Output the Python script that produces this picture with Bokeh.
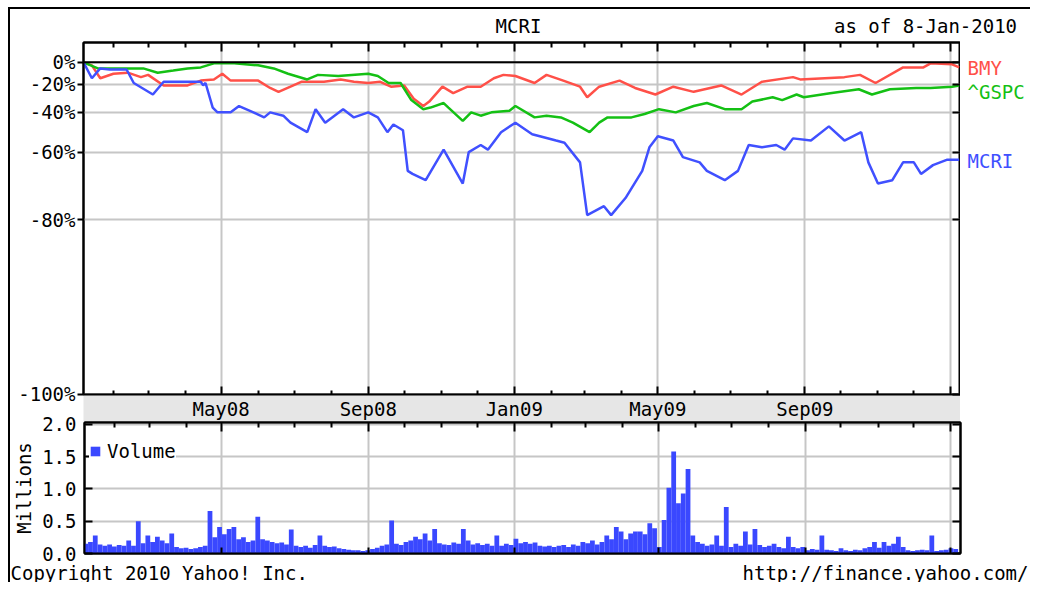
import pandas as pd
from bokeh.plotting import figure
from bokeh.layouts import column, row
from bokeh.models import (Range1d, FixedTicker, DatetimeAxis, LogAxis, LinearAxis,
                          Label, Span, DatetimeTickFormatter)
from bokeh.embed import file_html
from bokeh.resources import INLINE

FONT = "DejaVu Sans Mono"
FS = "19px"

title_text = "MCRI"
as_of_text = "as of  8-Jan-2010"
copyright_text = "Copyright 2010 Yahoo! Inc."
url_text = "http://finance.yahoo.com/"

# ---- data (percent change since 7-Jan-2008) ----
mcri_dates = ["2008-01-07", "2008-01-14", "2008-01-21", "2008-01-29", "2008-02-12", "2008-02-18",
              "2008-03-05", "2008-03-14", "2008-03-22", "2008-04-14", "2008-04-16", "2008-04-18",
              "2008-04-24", "2008-04-28", "2008-05-09", "2008-05-16", "2008-05-28", "2008-06-06",
              "2008-06-11", "2008-06-22", "2008-06-28", "2008-07-12", "2008-07-19", "2008-07-27",
              "2008-08-11", "2008-08-20", "2008-09-01", "2008-09-09", "2008-09-17", "2008-09-22",
              "2008-09-30", "2008-10-04", "2008-10-08", "2008-10-19", "2008-11-03", "2008-11-19",
              "2008-11-24", "2008-12-04", "2008-12-10", "2008-12-21", "2009-01-02", "2009-01-16",
              "2009-02-05", "2009-02-12", "2009-02-25", "2009-03-03", "2009-03-17", "2009-03-23",
              "2009-04-04", "2009-04-18", "2009-04-24", "2009-05-01", "2009-05-14", "2009-05-22",
              "2009-06-05", "2009-06-11", "2009-06-26", "2009-07-07", "2009-07-16", "2009-07-27",
              "2009-08-08", "2009-08-15", "2009-08-22", "2009-09-06", "2009-09-21", "2009-10-04",
              "2009-10-18", "2009-10-24", "2009-11-01", "2009-11-13", "2009-11-22", "2009-12-01",
              "2009-12-07", "2009-12-17", "2009-12-29", "2010-01-08"]
mcri_pct = [0, -15, -6, -7, -7, -19, -28, -18, -18, -18, -21, -19, -37, -40, -40, -36, -40, -43,
            -40, -42, -46, -51, -38, -46, -38, -43, -40, -43, -51, -47, -50, -67, -68, -70, -59,
            -71, -60, -57, -59, -51, -46, -52, -55, -56, -64, -79, -77, -79, -75, -67, -58, -53,
            -55, -62, -64, -67, -70, -67, -57, -58, -57, -59, -54, -55, -48, -55, -51, -64, -71,
            -70, -64, -64, -68, -65, -63, -63]

bmy_dates = ["2008-01-07", "2008-01-14", "2008-01-21", "2008-02-01", "2008-02-13", "2008-02-24",
             "2008-03-01", "2008-03-14", "2008-04-03", "2008-04-14", "2008-04-25", "2008-05-02",
             "2008-05-09", "2008-06-01", "2008-06-11", "2008-06-18", "2008-06-28", "2008-07-07",
             "2008-07-26", "2008-08-09", "2008-08-20", "2008-09-01", "2008-09-11", "2008-09-20",
             "2008-10-01", "2008-10-09", "2008-10-17", "2008-10-22", "2008-11-02", "2008-11-11",
             "2008-11-23", "2008-12-04", "2008-12-15", "2008-12-23", "2009-01-02", "2009-01-18",
             "2009-01-28", "2009-02-11", "2009-02-25", "2009-03-03", "2009-03-13", "2009-03-30",
             "2009-04-12", "2009-04-29", "2009-05-14", "2009-05-31", "2009-06-23", "2009-07-10",
             "2009-07-27", "2009-08-22", "2009-08-28", "2009-10-04", "2009-10-17", "2009-10-30",
             "2009-11-22", "2009-12-09", "2009-12-15", "2010-01-02", "2010-01-08"]
bmy_pct = [0, -3, -15, -11, -10, -14, -12, -21, -21, -17, -16, -11, -17, -17, -23, -26, -22, -18,
           -18, -16, -18, -19, -18, -22, -21, -31, -36, -33, -22, -27, -22, -22, -15, -12, -13,
           -19, -12, -17, -22, -30, -22, -17, -23, -28, -22, -26, -21, -28, -18, -14, -16, -14,
           -12, -19, -5, -5, -1, -2, -5]

gspc_dates = ["2008-01-07", "2008-01-19", "2008-02-13", "2008-02-26", "2008-03-09", "2008-03-22",
              "2008-04-03", "2008-04-14", "2008-04-25", "2008-05-12", "2008-06-01", "2008-06-14",
              "2008-06-26", "2008-07-12", "2008-07-21", "2008-08-07", "2008-09-01", "2008-09-09",
              "2008-09-18", "2008-09-28", "2008-10-07", "2008-10-17", "2008-10-23", "2008-11-03",
              "2008-11-07", "2008-11-19", "2008-11-26", "2008-12-04", "2008-12-13", "2008-12-28",
              "2009-01-02", "2009-01-18", "2009-01-28", "2009-02-09", "2009-02-19", "2009-03-05",
              "2009-03-13", "2009-03-20", "2009-04-09", "2009-04-20", "2009-05-02", "2009-05-16",
              "2009-05-31", "2009-06-11", "2009-06-26", "2009-07-10", "2009-07-19", "2009-08-05",
              "2009-08-13", "2009-08-25", "2009-08-31", "2009-09-22", "2009-10-16", "2009-10-27",
              "2009-11-11", "2009-12-03", "2009-12-15", "2010-01-02", "2010-01-08"]
gspc_pct = [0, -6, -6, -6, -10, -8, -6, -5, -1, -1, -3, -6, -11, -16, -12, -13, -11, -13, -19,
            -19, -32, -38, -37, -34, -37, -45, -40, -42, -40, -39, -36, -43, -42, -43, -46, -51,
            -46, -43, -43, -41, -38, -40, -36, -34, -38, -38, -33, -30, -32, -28, -30, -27, -24,
            -28, -24, -23, -23, -22, -21]

# volume in millions, one bar per 4 days from 8-Jan-2008
vol_start = "2008-01-08"
volume = [0.15, 0.18, 0.28, 0.14, 0.12, 0.14, 0.11, 0.13, 0.12, 0.20,
          0.12, 0.50, 0.16, 0.28, 0.18, 0.26, 0.20, 0.16, 0.31, 0.10,
          0.08, 0.09, 0.07, 0.08, 0.10, 0.12, 0.66, 0.25, 0.41, 0.30,
          0.38, 0.41, 0.22, 0.25, 0.18, 0.20, 0.57, 0.22, 0.20, 0.18,
          0.16, 0.17, 0.14, 0.37, 0.12, 0.10, 0.12, 0.09, 0.13, 0.28,
          0.12, 0.10, 0.11, 0.08, 0.07, 0.06, 0.05, 0.05, 0.04, 0.05,
          0.07, 0.09, 0.12, 0.14, 0.51, 0.15, 0.13, 0.18, 0.20, 0.26,
          0.22, 0.31, 0.20, 0.38, 0.16, 0.14, 0.13, 0.17, 0.15, 0.38,
          0.20, 0.14, 0.16, 0.13, 0.15, 0.12, 0.28, 0.12, 0.15, 0.13,
          0.23, 0.16, 0.18, 0.15, 0.17, 0.12, 0.11, 0.12, 0.10, 0.12,
          0.13, 0.10, 0.14, 0.12, 0.18, 0.16, 0.20, 0.14, 0.18, 0.28,
          0.22, 0.41, 0.34, 0.22, 0.31, 0.34, 0.34, 0.30, 0.47, 0.39,
          0.10, 0.52, 1.02, 1.58, 0.78, 0.93, 1.31, 0.28, 0.18, 0.15,
          0.12, 0.14, 0.28, 0.12, 0.72, 0.10, 0.15, 0.12, 0.34, 0.14,
          0.38, 0.13, 0.10, 0.12, 0.15, 0.10, 0.08, 0.26, 0.10, 0.08,
          0.10, 0.05, 0.07, 0.06, 0.28, 0.06, 0.05, 0.04, 0.08, 0.05,
          0.04, 0.06, 0.05, 0.08, 0.10, 0.18, 0.09, 0.18, 0.12, 0.15,
          0.26, 0.10, 0.05, 0.04, 0.05, 0.06, 0.05, 0.28, 0.04, 0.05,
          0.06, 0.08, 0.07]

x_tick_dates = ["2008-05-01", "2008-09-01", "2009-01-01", "2009-05-01", "2009-09-01", "2010-01-01"]
x_tick_labels = ["May08", "Sep08", "Jan09", "May09", "Sep09", ""]
y_tick_values = [1.0, 0.8, 0.6, 0.4, 0.2, 0.0337]
y_tick_labels = ["0%", "-20%", "-40%", "-60%", "-80%", "-100%"]
vol_tick_values = [0.0, 0.5, 1.0, 1.5, 2.0]
vol_tick_labels = ["0.0", "0.5", "1.0", "1.5", "2.0"]

C_MCRI = "#4050ff"
C_BMY = "#ff5048"
C_GSPC = "#14c014"
C_VOL = "#3a48ff"
GRID = "#c6c6c6"
BAND = "#e6e6e6"


def ms(d):
    return int(pd.Timestamp(d).value // 10**6)


major_ms = [ms(d) for d in x_tick_dates]
minor_ms = [ms(d) for d in pd.date_range("2008-02-01", "2010-01-01", freq="MS") if ms(d) not in major_ms]

x_range = Range1d(ms("2008-01-07"), ms("2010-01-09"))
y_range = Range1d(0.0336, 1.225)


def no_align(f):
    try:
        f.frame_align = False
    except Exception:
        pass


def text_fig(h, **kw):
    f = figure(width=1020, height=h, x_range=Range1d(0, 1020), y_range=Range1d(0, h),
               min_border=0, x_axis_location=None, y_axis_location=None,
               output_backend="svg", toolbar_location=None, **kw)
    f.grid.visible = False
    f.outline_line_color = None
    no_align(f)
    return f


def txt(x, y, s, align, color="black", **kw):
    return Label(x=x, y=y, text=s, text_font=FONT, text_font_size=FS, text_color=color,
                 text_align=align, text_baseline="middle", **kw)


def hide_labels(ax):
    ax.major_label_text_font_size = "0px"
    ax.major_label_text_color = None
    ax.major_label_standoff = 0


def inner_axis(cls, ticks, minor=None, tin=8, min_in=5):
    kw = dict(minor_ticks=minor) if minor else {}
    ax = cls(ticker=FixedTicker(ticks=ticks, **kw), major_tick_in=tin, major_tick_out=0,
             minor_tick_in=min_in, minor_tick_out=0, major_tick_line_width=2,
             minor_tick_line_width=2, axis_line_color="black", axis_line_width=2)
    hide_labels(ax)
    return ax


# ---------------- header ----------------
header = text_fig(27)
header.add_layout(txt(508, 11, title_text, "center"))
header.add_layout(txt(1018, 11, as_of_text, "right"))

# ---------------- main price chart ----------------
p = figure(width=950, height=386, x_axis_type="datetime", y_axis_type="log",
           x_range=x_range, y_range=y_range,
           min_border_left=73, min_border_right=0, min_border_top=6, min_border_bottom=26,
           output_backend="svg", toolbar_location=None)
p.outline_line_color = "black"
p.outline_line_width = 2

p.xgrid.ticker = FixedTicker(ticks=major_ms)
p.ygrid.ticker = FixedTicker(ticks=y_tick_values)
for g in (p.xgrid[0], p.ygrid[0]):
    g.grid_line_color = GRID
    g.grid_line_width = 2

ya = p.yaxis[0]
ya.ticker = FixedTicker(ticks=y_tick_values)
ya.major_label_overrides = dict(zip(y_tick_values, y_tick_labels))
ya.major_tick_out = 6
ya.major_tick_in = 0
ya.minor_tick_out = 0
ya.minor_tick_in = 0
ya.major_tick_line_width = 2
ya.major_label_standoff = 2
ya.major_label_text_font = FONT
ya.major_label_text_font_size = FS
ya.major_label_text_color = "black"
ya.axis_line_color = "black"
ya.axis_line_width = 2

xa = p.xaxis[0]
xa.ticker = FixedTicker(ticks=major_ms, minor_ticks=minor_ms)
xa.formatter = DatetimeTickFormatter(months="%b%y", days="%b%y")
xa.major_label_overrides = dict(zip(major_ms, x_tick_labels))
xa.major_tick_in = 8
xa.major_tick_out = 0
xa.minor_tick_in = 4
xa.minor_tick_out = 0
xa.major_tick_line_width = 2
xa.minor_tick_line_width = 2
xa.major_label_standoff = 3
xa.major_label_text_font = FONT
xa.major_label_text_font_size = FS
xa.major_label_text_color = "black"
xa.axis_line_color = "black"
xa.axis_line_width = 2
xa.background_fill_color = BAND

p.add_layout(inner_axis(DatetimeAxis, major_ms, minor_ms, 9, 5), "above")
p.add_layout(inner_axis(LogAxis, y_tick_values, None, 8, 0), "right")
p.add_layout(Span(location=1.0, dimension="width", line_color="black", line_width=2))

series = [("BMY", bmy_dates, bmy_pct, C_BMY, -1),
          ("^GSPC", gspc_dates, gspc_pct, C_GSPC, -7),
          ("MCRI", mcri_dates, mcri_pct, C_MCRI, -1)]
for name, dates, pct, col, yoff in series:
    xs = pd.to_datetime(dates)
    ys = [1 + v / 100.0 for v in pct]
    p.line(xs, ys, line_color=col, line_width=2.5)

# ---------------- series names (share the log price scale) ----------------
side = figure(width=70, height=386, x_range=Range1d(0, 70), y_range=y_range, y_axis_type="log",
              min_border_left=0, min_border_right=0, min_border_top=6, min_border_bottom=26,
              x_axis_location=None, y_axis_location=None,
              output_backend="svg", toolbar_location=None)
side.grid.visible = False
side.outline_line_color = None
for name, dates, pct, col, yoff in series:
    side.add_layout(txt(7, 1 + pct[-1] / 100.0, name, "left", color=col, y_offset=yoff))

# ---------------- volume chart ----------------
v = figure(width=1020, height=153, x_axis_type="datetime", x_range=x_range,
           y_range=Range1d(0, 2.03),
           min_border_left=73, min_border_right=70, min_border_top=10, min_border_bottom=12,
           output_backend="svg", toolbar_location=None,
           styles={"margin-top": "-10px"})
v.border_fill_alpha = 0.0
v.outline_line_color = "black"
v.outline_line_width = 2

vol_dates = pd.date_range(vol_start, periods=len(volume), freq="4D")
v.vbar(x=vol_dates, top=volume, width=4 * 86400000, fill_color=C_VOL, line_color=None,
       legend_label="Volume")

v.xgrid.ticker = FixedTicker(ticks=major_ms)
v.ygrid.ticker = FixedTicker(ticks=vol_tick_values)
for g in (v.xgrid[0], v.ygrid[0]):
    g.grid_line_color = GRID
    g.grid_line_width = 2

vy = v.yaxis[0]
vy.ticker = FixedTicker(ticks=vol_tick_values)
vy.major_label_overrides = dict(zip(vol_tick_values, vol_tick_labels))
vy.major_tick_in = 8
vy.major_tick_out = 0
vy.minor_tick_in = 0
vy.minor_tick_out = 0
vy.major_tick_line_width = 2
vy.major_label_standoff = 8
vy.major_label_text_font = FONT
vy.major_label_text_font_size = FS
vy.major_label_text_color = "black"
vy.axis_line_color = "black"
vy.axis_line_width = 2
vy.axis_label = "Millions"
vy.axis_label_text_font = FONT
vy.axis_label_text_font_size = FS
vy.axis_label_text_font_style = "normal"
vy.axis_label_text_color = "black"
vy.axis_label_standoff = 4

vx = v.xaxis[0]
vx.ticker = FixedTicker(ticks=major_ms, minor_ticks=minor_ms)
vx.major_tick_in = 6
vx.major_tick_out = 0
vx.minor_tick_in = 0
vx.minor_tick_out = 0
vx.major_tick_line_width = 2
vx.axis_line_color = "black"
vx.axis_line_width = 2
hide_labels(vx)

v.add_layout(inner_axis(DatetimeAxis, major_ms, minor_ms, 9, 5), "above")
v.add_layout(inner_axis(LinearAxis, vol_tick_values, None, 8, 0), "right")

leg = v.legend[0]
leg.location = (5, 91)
leg.margin = 0
leg.padding = 2
leg.spacing = 0
leg.glyph_width = 12
leg.glyph_height = 12
leg.label_standoff = 6
leg.label_text_font = FONT
leg.label_text_font_size = FS
leg.label_text_color = "black"
leg.border_line_color = None
leg.background_fill_color = "white"
leg.background_fill_alpha = 1.0

# ---------------- footer (overlaps the volume chart's transparent bottom strip) ----------------
footer = text_fig(29, styles={"margin-top": "-12px"})
footer.background_fill_alpha = 0.0
footer.border_fill_alpha = 0.0
footer.add_layout(txt(0, 10, copyright_text, "left"))
footer.add_layout(txt(1018, 10, url_text, "right"))

layout = column(header, row(p, side, spacing=0), v, footer, spacing=0,
                styles={"margin": "7px 0px 0px 8px",
                        "border-left": "2px solid black", "border-top": "2px solid black"})

open("out.html", "w").write(file_html(layout, INLINE))
